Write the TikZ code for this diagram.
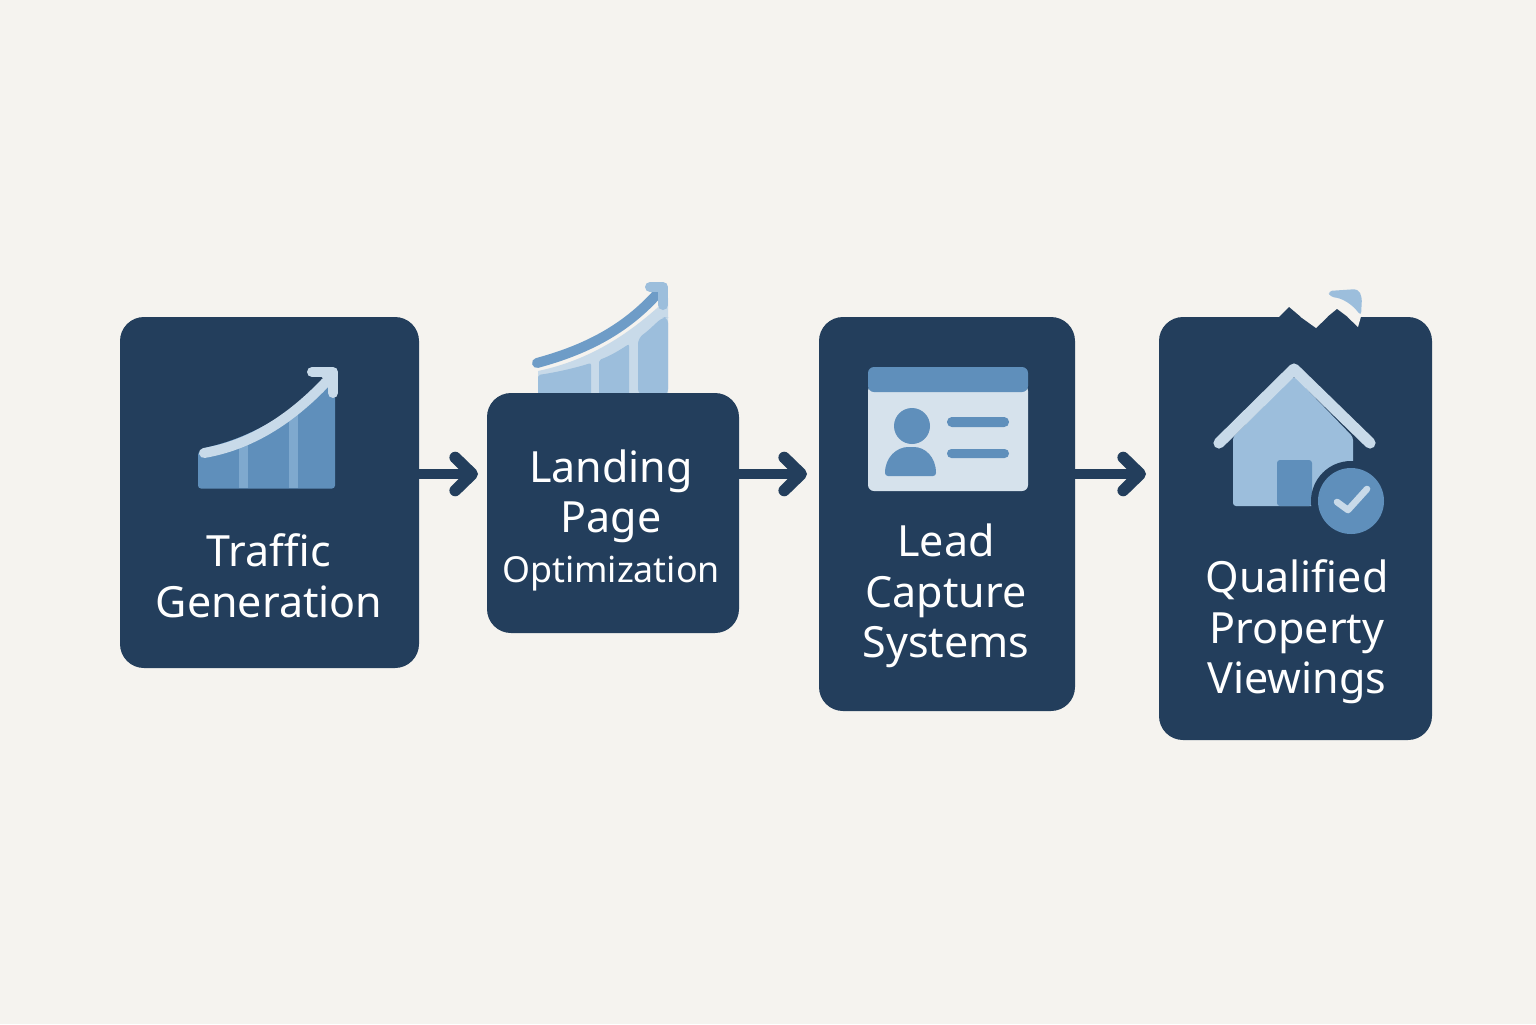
\documentclass[tikz,border=0pt]{standalone}
\usepackage{fontspec}
\setmainfont{Noto Sans}
\usetikzlibrary{arrows.meta}
\definecolor{bgc}{HTML}{F5F3EF}
\definecolor{navy}{HTML}{233E5C}
\definecolor{midb}{HTML}{5F8FBB}
\definecolor{barb}{HTML}{7FA9CE}
\definecolor{lightb}{HTML}{C8DAE9}
\definecolor{softb}{HTML}{9CBEDC}
\definecolor{arrb}{HTML}{6E9CC7}
\definecolor{cardb}{HTML}{D6E2EC}
\tikzset{
  flowbox/.style={fill=navy,rounded corners=12pt,inner sep=0pt,minimum width=#1},
  flowlabel/.style={text=white,align=center,font=\fontsize{21.5}{25.3}\selectfont,inner sep=0pt},
  flowarrow/.style={draw=navy,line width=5pt,-{Straight Barb[length=8.5pt,width=16.5pt,line width=5.8pt,round]}},
}
\begin{document}
\begin{tikzpicture}[x=0.5pt,y=-0.5pt]
\useasboundingbox (0,0) rectangle (1536,1024);
\fill[bgc] (0,0) rectangle (1536,1024);
% icon above box 2
\fill[lightb] (538,371) .. controls (590,360) and (630,334) .. (668,298) -- (668,395) -- (538,395) -- cycle;
\fill[softb,rounded corners=1pt] (538,375) .. controls (558,372) and (575,368) .. (591,363) -- (591,395) -- (538,395) -- cycle;
\fill[softb,rounded corners=1pt] (599,360) .. controls (610,356) and (620,350) .. (629,344) -- (629,395) -- (599,395) -- cycle;
\fill[softb,rounded corners=3pt] (638,338) .. controls (648,331) and (655,324) .. (663,317) -- (668,317) -- (668,395) -- (638,395) -- cycle;
\draw[arrb,line width=5pt,line cap=round] (537,363) .. controls (585,350) and (625,330) .. (658,293);
\fill[softb] (652,285) -- (666,285) -- (666,300) -- cycle;
\draw[softb,line width=5pt,line cap=round,line join=round] (650,287) -- (663,287) -- (663,305);
% boxes
\node[flowbox=149.5pt,minimum height=175.5pt] (b1) at (269.5,492.5) {};
\node[flowbox=126pt,minimum height=120pt] (b2) at (613,513) {};
\node[flowbox=128pt,minimum height=197pt] (b3) at (947,514) {};
\node[flowbox=136.5pt,minimum height=211.5pt] (b4) at (1295.5,528.5) {};
% box 4 jagged top
\fill[navy] (1278,318) -- (1289,307) -- (1302,318) -- cycle;
\fill[navy] (1326,318) -- (1337,309) -- (1349,318) -- cycle;
\fill[bgc] (1300,316.5) -- (1316,328) -- (1328,316.5) -- cycle;
\fill[bgc] (1347,316.5) -- (1358,327) -- (1361,316.5) -- cycle;
\fill[softb,rounded corners=2pt] (1328,291) -- (1358,289) -- (1362,297) -- (1361,316) .. controls (1352,304) and (1342,298) .. (1330,297) -- cycle;
% icon box 1
\fill[midb,rounded corners=1.5pt] (198,452) -- (335,375) -- (335,488.5) -- (198,488.5) -- cycle;
\fill[barb] (239,440) rectangle (248,488);
\fill[barb] (289,410) rectangle (298,488);
\fill[navy] (198,449) .. controls (250,440) and (295,410) .. (330,378) -- (300,370) -- (198,420) -- cycle;
\draw[lightb,line width=5pt,line cap=round] (204,453) .. controls (250,445) and (290,420) .. (326,382);
\fill[lightb] (315,370) -- (336,370) -- (336,392) -- cycle;
\draw[lightb,line width=5pt,line cap=round,line join=round] (312,372) -- (333,372) -- (333,393);
% icon box 3
\fill[cardb,rounded corners=3pt] (868,385) -- (868,491) -- (1028,491) -- (1028,385) -- cycle;
\fill[midb,rounded corners=3pt] (868,392) -- (868,367) -- (1028,367) -- (1028,392) -- cycle;
\fill[midb] (912,426) circle[radius=18];
\fill[midb,rounded corners=1.5pt] (885,476) .. controls (885,457) and (897,447) .. (911,447) .. controls (925,447) and (936,457) .. (936,476) -- cycle;
\fill[midb,rounded corners=2.4pt] (947,417) rectangle (1009,427);
\fill[midb,rounded corners=2.2pt] (947,449) rectangle (1009,458);
% icon box 4
\fill[softb,rounded corners=1.5pt] (1233,506) -- (1233,437) -- (1294,376) -- (1353,437) -- (1353,506) -- cycle;
\fill[midb,rounded corners=1.5pt] (1277,506) -- (1277,460) -- (1312,460) -- (1312,506) -- cycle;
\draw[lightb,line width=5.6pt,line cap=round,line join=round] (1219,443) -- (1294,369) -- (1370,443);
\fill[navy] (1351,501) circle[radius=40];
\fill[midb] (1351,501) circle[radius=33];
\draw[lightb,line width=3.3pt,line cap=round,line join=round] (1337,502) -- (1348,510) -- (1367,489);
% labels
\node[flowlabel] (t1) at (269,576) {Traffic\\Generation};
\node[flowlabel] (t2) at (611,496.5) {Landing\\Page};
\node[flowlabel,font=\fontsize{17.9}{22}\selectfont] (t2b) at (611,574) {Optimization};
\node[flowlabel] (t3) at (946,596) {Lead\\Capture\\Systems};
\node[flowlabel] (t4) at (1297,632) {Qualified\\Property\\Viewings};
% connectors
\coordinate (e1) at (478,474);
\coordinate (e2) at (807,474);
\coordinate (e3) at (1146,474);
\draw[flowarrow] (b1.east |- e1) -- (e1);
\draw[flowarrow] (b2.east |- e2) -- (e2);
\draw[flowarrow] (b3.east |- e3) -- (e3);
\end{tikzpicture}
\end{document}
